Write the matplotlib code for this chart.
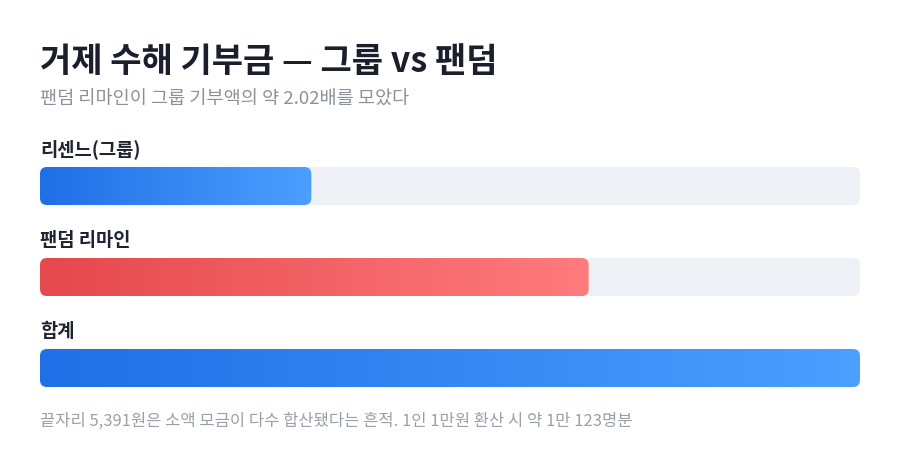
import numpy as np
import matplotlib
matplotlib.use("Agg")
import matplotlib.pyplot as plt
from matplotlib.patches import FancyBboxPatch
from matplotlib.colors import LinearSegmentedColormap

plt.rcParams['font.family'] = ['Noto Sans CJK KR', 'DejaVu Sans']

# ---- data ----
categories = ["리센느(그룹)", "팬덤 리마인", "합계"]
group_amount = 33500000
fandom_amount = 67735391
values = [group_amount, fandom_amount, group_amount + fandom_amount]
total = values[2]
title = "거제 수해 기부금 — 그룹 vs 팬덤"
subtitle = "팬덤 리마인이 그룹 기부액의 약 2.02배를 모았다"
footnote = "끝자리 5,391원은 소액 모금이 다수 합산됐다는 흔적. 1인 1만원 환산 시 약 1만 123명분"

# ---- style ----
W, H = 900, 469
blue = ("#1f6fe6", "#4c9fff")
red = ("#e5484d", "#ff7b7d")
bar_colors = [blue, red, blue]
track_color = "#edf0f5"

fig = plt.figure(figsize=(W / 100, H / 100), dpi=100)
fig.patch.set_facecolor("white")

row_px = 91
top_px = 186 - row_px / 2
ax = fig.add_axes([40 / W, (H - (top_px + 3 * row_px)) / H, 820 / W, 3 * row_px / H])
ax.set_xlim(0, total)
ax.set_ylim(2.5, -0.5)
ax.axis("off")

bar_h = 38 / row_px
rad_px = 7
x_per_px = total / 820
y_per_px = 1 / row_px
r_x = rad_px * x_per_px
m_aspect = y_per_px / x_per_px

def rounded(x0, y0, w, h, color, z):
    p = FancyBboxPatch((x0, y0), w, h,
                       boxstyle=f"round,pad=0,rounding_size={r_x}",
                       mutation_aspect=m_aspect,
                       facecolor=color, edgecolor="none", zorder=z)
    ax.add_patch(p)
    return p

for i, (cat, v) in enumerate(zip(categories, values)):
    y0 = i - bar_h / 2
    rounded(0, y0, total, bar_h, track_color, 1)
    p = rounded(0, y0, v, bar_h, "none", 2)
    cmap = LinearSegmentedColormap.from_list(f"g{i}", list(bar_colors[i]))
    grad = np.linspace(0, 1, 256).reshape(1, -1)
    im = ax.imshow(grad, cmap=cmap, extent=(0, v, i + bar_h / 2, i - bar_h / 2),
                   aspect="auto", zorder=3, interpolation="bicubic")
    im.set_clip_path(p)
    ax.annotate(cat, xy=(0, y0), xytext=(0, 8.5), textcoords="offset points",
                ha="left", va="baseline", fontsize=13.5, fontweight="bold",
                color="#1f2430")

ax.set_xlim(0, total)
ax.set_ylim(2.5, -0.5)

fig.text(40 / W, 1 - 61 / H, title, fontsize=24.5, fontweight="bold",
         color="#1a1f2b", ha="left", va="center")
fig.text(40 / W, 1 - 100 / H, subtitle, fontsize=13.4, color="#8b919b",
         ha="left", va="center")
fig.text(40 / W, 1 - 421 / H, footnote, fontsize=11.9, color="#9aa0a9",
         ha="left", va="center")

fig.savefig("out.png", dpi=100, facecolor="white")
